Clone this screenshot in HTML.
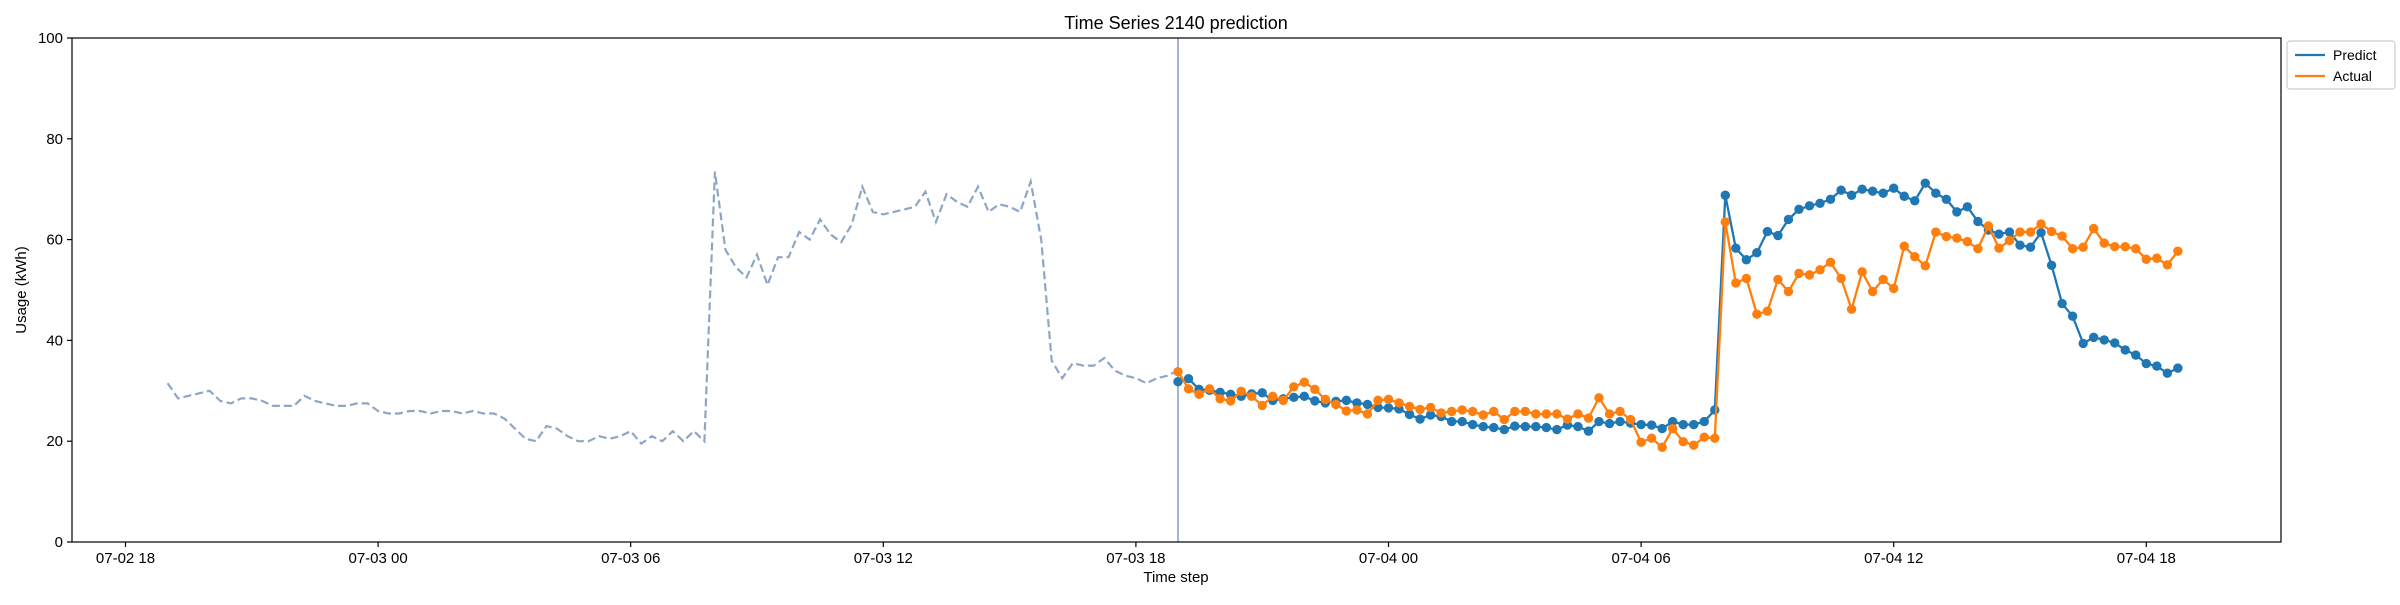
<!DOCTYPE html>
<html><head><meta charset="utf-8"><style>
body{margin:0;background:#fff;}
svg text{font-family:"Liberation Sans","DejaVu Sans",sans-serif;fill:#000;}
</style></head><body>
<svg id="chart" width="2400" height="600" viewBox="0 0 2400 600" xmlns="http://www.w3.org/2000/svg">
<rect width="2400" height="600" fill="#fff"/>
<text x="1176" y="29" font-size="18" text-anchor="middle">Time Series 2140 prediction</text>
<text x="1176" y="582" font-size="15" text-anchor="middle">Time step</text>
<text x="26" y="290" font-size="15" text-anchor="middle" transform="rotate(-90 26 290)">Usage (kWh)</text>
<g id="grid"></g>
<g id="series"></g>
<rect x="72" y="38" width="2209" height="504" fill="none" stroke="#000" stroke-width="1.2"/>
<g>
<rect x="2287" y="41" width="108" height="48" rx="3" fill="#fff" stroke="#ccc" stroke-width="1.2"/>
<line x1="2295" y1="55" x2="2325" y2="55" stroke="#1f77b4" stroke-width="2.3"/>
<text x="2333" y="60" font-size="14">Predict</text>
<line x1="2295" y1="76" x2="2325" y2="76" stroke="#ff7f0e" stroke-width="2.3"/>
<text x="2333" y="81" font-size="14">Actual</text>
</g>
</svg>
<script>
const historyValues=[31.5,28.5,29,29.5,30,28,27.5,28.5,28.5,28,27,27,27,29,28,27.5,27,27,27.5,27.5,26,25.5,25.5,26,26,25.5,26,26,25.5,26,25.5,25.5,24.5,22.5,20.5,20,23,22.5,21,20,20,21,20.5,21,22,19.5,21,20,22,20,22,20,73.5,58,54.5,52.5,57,51,56.5,56.5,61.5,60,64,61,59.5,63,70.5,65.5,65,65.5,66,66.5,69.5,63.5,69,67.5,66.5,70.5,65.5,67,66.5,65.5,71.5,60,36,32.5,35.5,35,35,36.5,34,33,32.5,31.5,32.5,33,34];
const predictValues=[31.8,32.4,30.3,30.1,29.7,29.3,28.9,29.4,29.6,28.1,28.4,28.7,28.9,28.0,27.6,27.9,28.1,27.6,27.3,26.7,26.6,26.4,25.3,24.4,25.2,24.9,23.9,23.9,23.3,22.9,22.7,22.3,23.0,22.9,22.9,22.7,22.3,23.2,22.9,22.0,23.9,23.5,23.9,23.6,23.3,23.2,22.5,23.9,23.3,23.3,23.9,26.2,68.8,58.3,56.0,57.4,61.6,60.8,64.0,66.0,66.7,67.2,68.0,69.8,68.8,70.0,69.6,69.2,70.2,68.6,67.7,71.2,69.2,68.0,65.5,66.5,63.6,61.9,61.1,61.5,58.9,58.5,61.4,54.9,47.3,44.8,39.4,40.6,40.1,39.5,38.1,37.1,35.4,34.9,33.5,34.5];
const actualValues=[33.8,30.4,29.3,30.4,28.4,28.0,29.9,28.9,27.1,28.9,28.1,30.8,31.7,30.3,28.3,27.3,26.0,26.2,25.4,28.1,28.3,27.6,26.9,26.3,26.7,25.6,25.9,26.2,25.9,25.2,25.9,24.3,25.9,25.9,25.4,25.4,25.4,24.4,25.4,24.6,28.6,25.4,25.9,24.3,19.8,20.6,18.8,22.5,19.9,19.2,20.8,20.6,63.5,51.4,52.3,45.2,45.8,52.1,49.7,53.3,53.0,54.0,55.5,52.3,46.2,53.6,49.7,52.1,50.3,58.7,56.6,54.8,61.5,60.6,60.3,59.6,58.2,62.7,58.3,59.8,61.5,61.5,63.1,61.6,60.7,58.2,58.5,62.2,59.3,58.6,58.6,58.2,56.1,56.3,55.0,57.7];
const xTickLabels=["07-02 18","07-03 00","07-03 06","07-03 12","07-03 18","07-04 00","07-04 06","07-04 12","07-04 18"];
const yTickValues=[0,20,40,60,80,100];
const historyStartHour=1, predictStartHour=25, stepHours=0.25;

const NS="http://www.w3.org/2000/svg";
const xPx=t=>125.5+t*42.1;
const yPx=v=>542-v*5.04;
function mk(tag,attrs,parent){const e=document.createElementNS(NS,tag);for(const k in attrs)e.setAttribute(k,attrs[k]);parent.appendChild(e);return e;}
const grid=document.getElementById('grid'), ser=document.getElementById('series');

yTickValues.forEach(v=>{
  const y=yPx(v);
  const tk=mk('line',{x1:67,x2:72,y1:y,y2:y,stroke:'#000','stroke-width':1.2},grid);
  
  
  const tx=mk('text',{x:63,y:y+5,'font-size':15,'text-anchor':'end'},grid);
  tx.textContent=v;
  
  
});
xTickLabels.forEach((lab,i)=>{
  const x=xPx(i*6);
  const tk=mk('line',{x1:x,x2:x,y1:542,y2:547,stroke:'#000','stroke-width':1.2},grid);
  
  
  const tx=mk('text',{x:x,y:563,'font-size':15,'text-anchor':'middle'},grid);
  tx.textContent=lab;
  
  
});

const hp=historyValues.map((v,i)=>xPx(historyStartHour+i*stepHours).toFixed(1)+','+yPx(v).toFixed(1)).join(' ');
const hl=mk('polyline',{points:hp,fill:'none',stroke:'#8ea6c4','stroke-width':2.2,'stroke-dasharray':'8,4'},ser);



const vx=xPx(predictStartHour);
const vl=mk('line',{x1:vx,x2:vx,y1:38,y2:542,stroke:'#a6b3d6','stroke-width':2},ser);



function drawSeries(vals,color,name){
  const pts=vals.map((v,i)=>[xPx(predictStartHour+i*stepHours),yPx(v)]);
  const pl=mk('polyline',{points:pts.map(p=>p[0].toFixed(1)+','+p[1].toFixed(1)).join(' '),fill:'none',stroke:color,'stroke-width':2.3},ser);
  
  
  pts.forEach(p=>{
    const c=mk('circle',{cx:p[0],cy:p[1],r:4.7,fill:color},ser);
    
    
  });
}
drawSeries(predictValues,'#1f77b4','predict');
drawSeries(actualValues,'#ff7f0e','actual');
</script>
</body></html>
